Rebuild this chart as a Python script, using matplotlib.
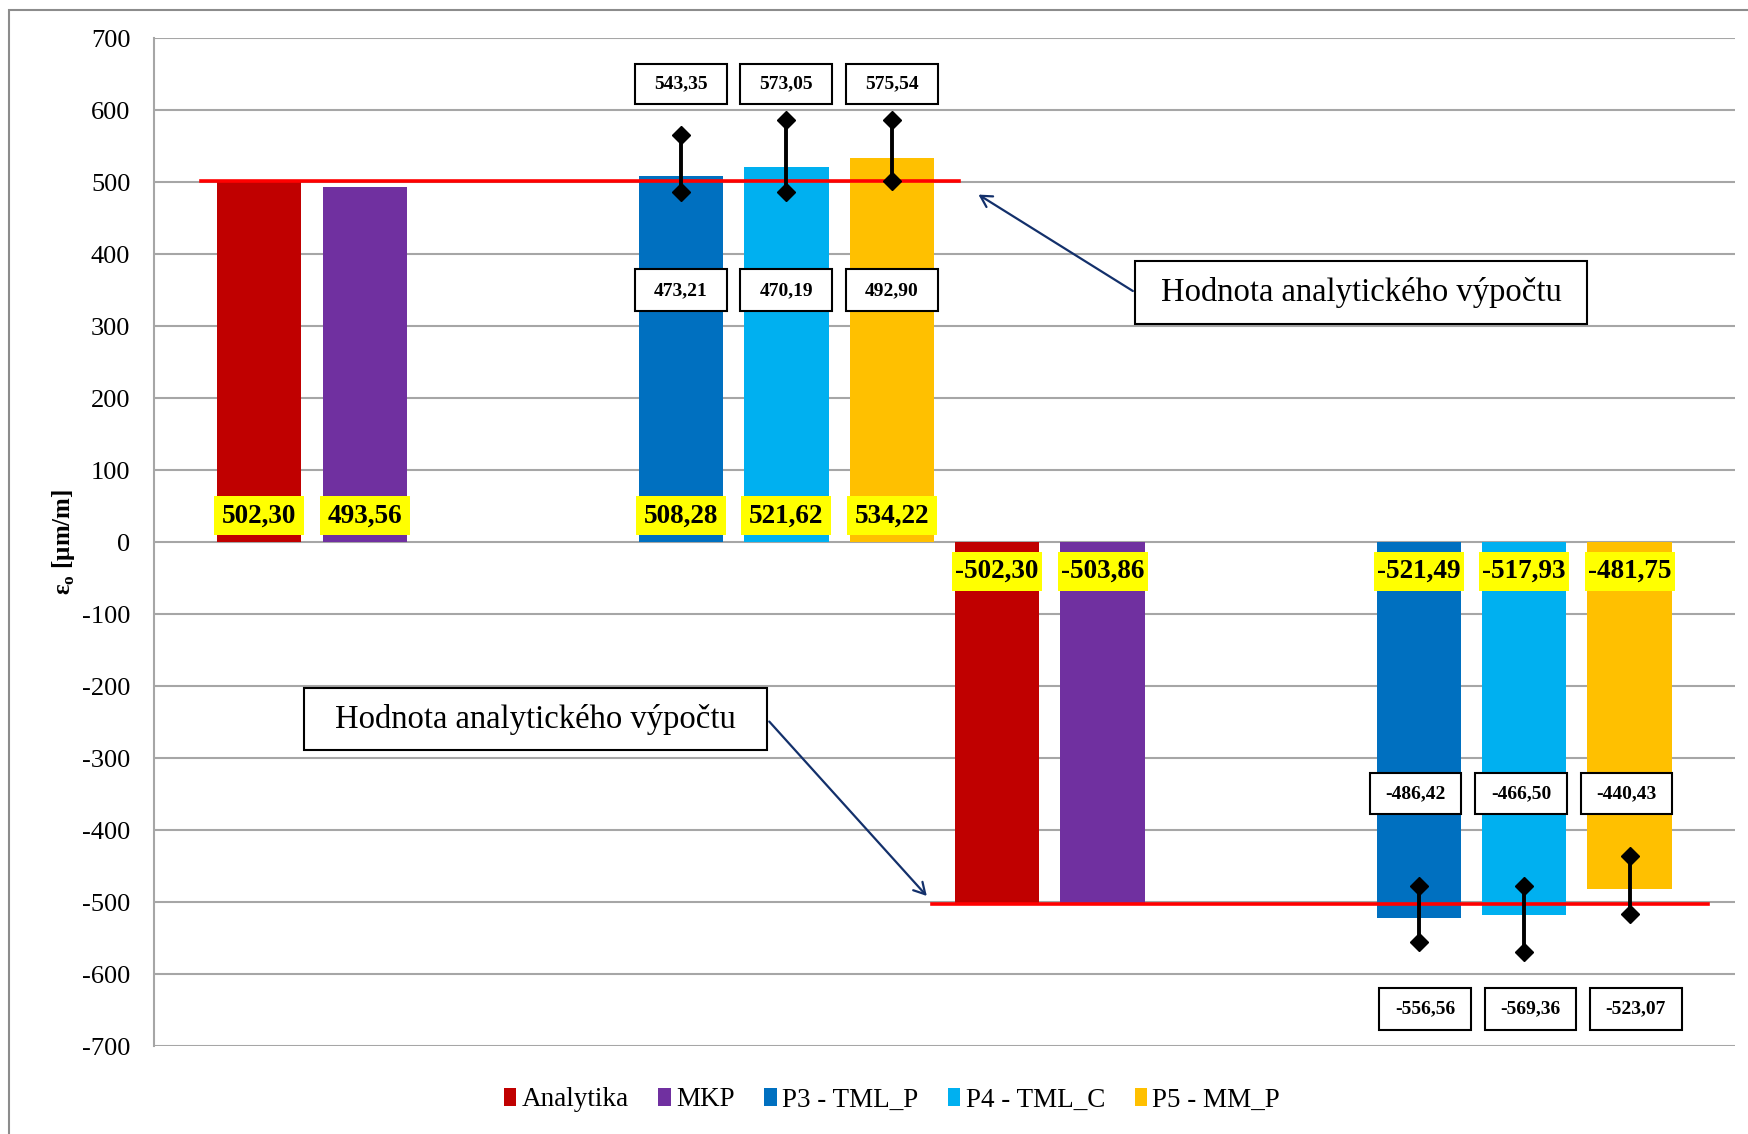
import numpy as np
import matplotlib
matplotlib.use('Agg')
import matplotlib.pyplot as plt
from matplotlib.patches import Rectangle

plt.rcParams['font.family'] = ['Liberation Serif', 'DejaVu Serif']
plt.rcParams['axes.unicode_minus'] = False
plt.rcParams['mathtext.fontset'] = 'custom'
plt.rcParams['mathtext.rm'] = 'Liberation Serif'
plt.rcParams['mathtext.bf'] = 'Liberation Serif:bold'

# data
serie = ['Analytika', 'MKP', 'P3 - TML_P', 'P4 - TML_C', 'P5 - MM_P']
barvy = ['#C00000', '#7030A0', '#0070C0', '#00B0F0', '#FFC000']
tah = [502.30, 493.56, 508.28, 521.62, 534.22]
tlak = [-502.30, -503.86, -521.49, -517.93, -481.75]

# popisky min/max (P3, P4, P5)
tah_max_lbl = [543.35, 573.05, 575.54]
tah_min_lbl = [473.21, 470.19, 492.90]
tlak_max_lbl = [-486.42, -466.50, -440.43]
tlak_min_lbl = [-556.56, -569.36, -523.07]

# konce chybovych usecek tak jak jsou nakresleny
tah_err_hi = [566, 586, 586]
tah_err_lo = [487, 487, 502]
tlak_err_hi = [-477, -477, -435]
tlak_err_lo = [-555, -569, -516]

# rozlozeni
sloty = np.array([0, 1, 4, 5, 6])
posun = 7
sirka = 0.8


def fmt(v):
    return f"{v:.2f}".replace('.', ',')


def box_text(ax, x, y, w, h, s, size, weight='normal', fc='white', ec='black', lw=1.5, z=6):
    ax.add_patch(Rectangle((x - w / 2, y - h / 2), w, h, facecolor=fc, edgecolor=ec,
                           linewidth=lw, zorder=z))
    ax.text(x, y, s, ha='center', va='center', fontsize=size, fontweight=weight, zorder=z + 1)


fig = plt.figure(figsize=(17.49, 11.34), dpi=100)
ax = fig.add_axes([0.088, 0.0773, 0.904, 0.8889])

handles = []
for i in range(5):
    xs = [sloty[i], sloty[i] + posun]
    b = ax.bar(xs, [tah[i], tlak[i]], width=sirka, color=barvy[i], zorder=2, label=serie[i])
    handles.append(b)
    for x, v in zip(xs, [tah[i], tlak[i]]):
        yl = 37 if v > 0 else -40
        box_text(ax, x, yl, 0.853, 54, fmt(v), 19.5, weight='bold', fc='#FFFF00', ec='none', lw=0)

# cara analytickeho vypoctu
ax.plot([-0.55, 6.64], [tah[0], tah[0]], color='#FF0000', lw=2.6, zorder=3)
ax.plot([6.38, 13.74], [tlak[0], tlak[0]], color='#FF0000', lw=2.6, zorder=3)

# chybove usecky P3-P5
for k in range(3):
    x1 = sloty[k + 2]
    x2 = sloty[k + 2] + posun
    ax.plot([x1, x1], [tah_err_lo[k], tah_err_hi[k]], color='black', lw=2.8, marker='D',
            markersize=9, zorder=4)
    ax.plot([x2, x2], [tlak_err_lo[k], tlak_err_hi[k]], color='black', lw=2.8, marker='D',
            markersize=9, zorder=4)
    box_text(ax, x1, 637, 0.87, 56, fmt(tah_max_lbl[k]), 14, weight='bold')
    box_text(ax, x1, 350, 0.87, 58, fmt(tah_min_lbl[k]), 14, weight='bold')
    box_text(ax, x2 - 0.03, -349, 0.87, 58, fmt(tlak_max_lbl[k]), 14, weight='bold')
    box_text(ax, x2 + 0.06, -648, 0.87, 58, fmt(tlak_min_lbl[k]), 14, weight='bold')

# popisky s sipkami
navy = '#13306B'
box_text(ax, 10.455, 347.3, 4.29, 86.8, 'Hodnota analytického výpočtu', 23.5, lw=1.5)
ax.annotate('', xy=(6.8, 485), xytext=(8.31, 347),
            arrowprops=dict(arrowstyle='->,head_length=0.8,head_width=0.45', color=navy, lw=1.6),
            zorder=7)
box_text(ax, 2.62, -245.5, 4.40, 87, 'Hodnota analytického výpočtu', 23.5, lw=1.5)
ax.annotate('', xy=(6.35, -494), xytext=(4.82, -246),
            arrowprops=dict(arrowstyle='->,head_length=0.8,head_width=0.45', color=navy, lw=1.6),
            zorder=7)

ax.set_xlim(-1, 14)
ax.set_ylim(-700, 700)
ax.set_yticks(np.arange(-700, 701, 100))
ax.set_xticks([])
ax.tick_params(axis='y', length=0, pad=17, labelsize=19)
ax.yaxis.grid(True, color='#A6A6A6', lw=1.5, zorder=0)
ax.set_axisbelow(True)
for s in ['top', 'right', 'bottom']:
    ax.spines[s].set_visible(False)
ax.spines['left'].set_color('#A6A6A6')
ax.spines['left'].set_linewidth(1.5)

ax.set_ylabel('ε$_\\mathbf{o}$ [μm/m]', fontsize=18, fontweight='bold')
ax.yaxis.set_label_coords(-0.0487, 0.5)

fig.legend(handles=handles, labels=serie, loc='center', bbox_to_anchor=(0.51, 0.03), ncol=5,
           frameon=False, fontsize=19.5, handlelength=0.45, handleheight=0.7,
           handletextpad=0.2, columnspacing=1.1)

# ramecek grafu
fig.add_artist(Rectangle((9 / 1749, -0.05), 1.1, 1.05 - 10 / 1134, transform=fig.transFigure,
                         fill=False, edgecolor='#8C8C8C', lw=1.5))

fig.savefig('out.png', dpi=100)
